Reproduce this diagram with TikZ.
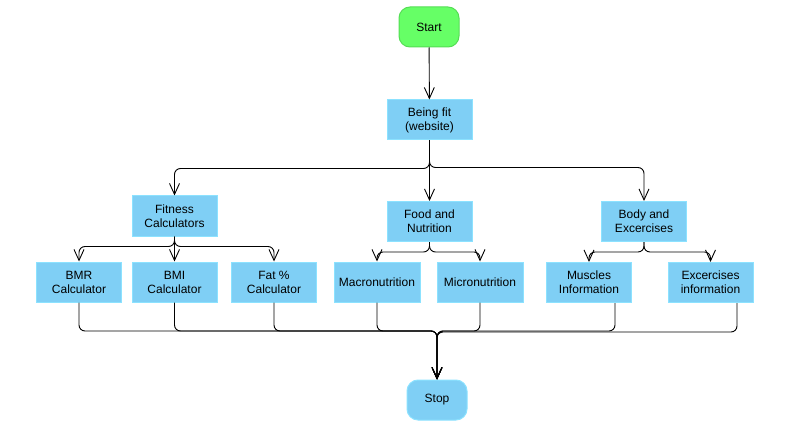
\documentclass[tikz,border=0pt]{standalone}
\usepackage{fontspec}
\setmainfont{Liberation Sans}
\usetikzlibrary{arrows.meta,calc}
\definecolor{boxfill}{HTML}{7FCFF5}
\definecolor{boxline}{HTML}{8CE2FF}
\definecolor{startfill}{HTML}{66FF66}
\definecolor{startline}{HTML}{55DD55}
\tikzset{
  box/.style={draw=boxline, fill=boxfill, line width=1pt, minimum width=85pt, minimum height=40pt, align=center, inner sep=0pt, font=\fontsize{12}{14}\selectfont},
  term/.style={box, minimum width=60pt, rounded corners=11pt},
  conn/.style={line width=0.9pt, rounded corners=6pt},
  arr/.style={conn, -{Straight Barb[length=11pt,width=10pt]}}
}
\begin{document}
\begin{tikzpicture}[x=1pt,y=-1pt]
\useasboundingbox (0,0) rectangle (809,433);
\node[term, fill=startfill, draw=startline] (start) at (429,27) {Start};
\node[box] (bf) at (429.5,120) {Being fit\\(website)};
\node[box] (fc) at (174.5,216) {Fitness\\Calculators};
\node[box] (food) at (429.5,221.5) {Food and\\Nutrition};
\node[box] (body) at (644,221.5) {Body and\\Excercises};
\node[box] (bmr) at (79,282) {BMR\\Calculator};
\node[box] (bmi) at (174.5,282) {BMI\\Calculator};
\node[box] (fat) at (274,282) {Fat \%\\Calculator};
\node[box, minimum width=86pt] (mac) at (377,282) {Macronutrition};
\node[box, minimum width=86pt] (mic) at (480,282) {Micronutrition};
\node[box] (mus) at (589,282.5) {Muscles\\Information};
\node[box] (exi) at (710.5,282.5) {Excercises\\information};
\node[term] (stop) at (437,400) {Stop};

\draw[arr] (start) -- (bf);
\draw[arr] (bf.south) -- ++(0,28) -| (fc.north);
\draw[arr] (bf.south) -- (food.north);
\draw[arr] (bf.south) -- ++(0,27) -| (body.north);

\draw[arr] (fc.south) -- ++(0,10) -| (bmr.north);
\draw[arr] (fc.south) -- (bmi.north);
\draw[arr] (fc.south) -- ++(0,10) -| (fat.north);

\draw[arr] (food.south) -- ++(0,10) -| (mac.north);
\draw[arr] (food.south) -- ++(0,10) -| (mic.north);

\draw[arr] (body.south) -- ++(0,10) -| (mus.north);
\draw[arr] (body.south) -- ++(0,10) -| (exi.north);

\coordinate (m) at (437,331);
\coordinate (m2) at (437,332);
\foreach \n in {bmr,bmi,fat,mac,mic}{
  \draw[arr] (\n.south) |- (m) -- (stop.north);
}
\draw[arr] ($(mus.south)+(26,0)$) |- (m) -- (stop.north);
\draw[arr] ($(exi.south)+(26.5,0)$) |- (m2) -- (stop.north);
\end{tikzpicture}
\end{document}
